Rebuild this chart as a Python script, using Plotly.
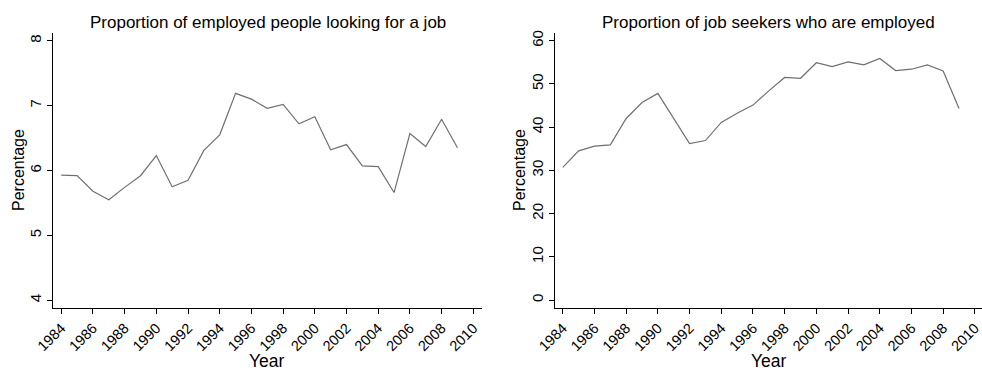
import plotly.graph_objects as go

years = list(range(1984, 2010))
employed_seeking = [5.93, 5.92, 5.68, 5.55, 5.74, 5.92, 6.23, 5.75, 5.85, 6.31,
                    6.55, 7.19, 7.10, 6.96, 7.02, 6.72, 6.83, 6.32, 6.40, 6.07,
                    6.06, 5.66, 6.57, 6.37, 6.79, 6.35]
seekers_employed = [30.7, 34.5, 35.6, 35.9, 42.0, 45.7, 47.8, 41.9, 36.2, 36.9,
                    41.1, 43.2, 45.1, 48.4, 51.5, 51.3, 54.9, 54.0, 55.1, 54.4,
                    55.9, 53.1, 53.4, 54.4, 53.0, 44.3]
x_ticks = list(range(1984, 2011, 2))
left_yticks = [4, 5, 6, 7, 8]
right_yticks = [0, 10, 20, 30, 40, 50, 60]

W, H = 982, 371
FONT = "Liberation Sans, Arial, Helvetica, sans-serif"
LINE = "#707070"

fig = go.Figure()
fig.add_trace(go.Scatter(x=years, y=employed_seeking, mode="lines",
                         line=dict(color=LINE, width=1.2), xaxis="x", yaxis="y",
                         showlegend=False))
fig.add_trace(go.Scatter(x=years, y=seekers_employed, mode="lines",
                         line=dict(color=LINE, width=1.2), xaxis="x2", yaxis="y2",
                         showlegend=False))

ydom = [1 - 308 / H, 1 - 33 / H]
xdom1 = [53 / W, 482 / W]
xdom2 = [555 / W, 1.0]

common_x = dict(showline=True, linecolor="black", linewidth=1, ticks="outside",
                ticklen=5, tickwidth=1, tickcolor="black", showgrid=False,
                zeroline=False, tickvals=x_ticks, ticktext=[str(t) for t in x_ticks],
                tickangle=-45, automargin=False, ticklabeloverflow="allow",
                tickfont=dict(size=14.5, color="black", family=FONT))
common_y = dict(showline=True, linecolor="black", linewidth=1, ticks="outside",
                ticklen=5, tickwidth=1, tickcolor="black", showgrid=False,
                zeroline=False, tickangle=-90, automargin=False,
                ticklabeloverflow="allow",
                tickfont=dict(size=15, color="black", family=FONT))

fig.update_layout(
    width=W, height=H,
    margin=dict(l=0, r=0, t=0, b=0, pad=0, autoexpand=False),
    paper_bgcolor="white", plot_bgcolor="white",
    font=dict(family=FONT, color="black"),
    xaxis=dict(domain=xdom1, anchor="y", range=[1983.48, 2010.55], **common_x),
    yaxis=dict(domain=ydom, anchor="x", range=[3.88, 8.12], tickvals=left_yticks,
               **common_y),
    xaxis2=dict(domain=xdom2, anchor="y2", range=[1983.51, 2010.45], **common_x),
    yaxis2=dict(domain=ydom, anchor="x2", range=[-1.85, 61.78], tickvals=right_yticks,
                **common_y),
    annotations=[
        dict(text="Proportion of employed people looking for a job", xref="paper",
             yref="paper", x=(xdom1[0] + xdom1[1]) / 2, y=1 - 22 / H, xanchor="center",
             yanchor="middle", showarrow=False, font=dict(size=17)),
        dict(text="Proportion of job seekers who are employed", xref="paper",
             yref="paper", x=(xdom2[0] + xdom2[1]) / 2, y=1 - 22 / H, xanchor="center",
             yanchor="middle", showarrow=False, font=dict(size=17)),
        dict(text="Year", xref="paper", yref="paper", x=267 / W, y=1 - 361 / H,
             xanchor="center", yanchor="middle", showarrow=False, font=dict(size=17.5)),
        dict(text="Year", xref="paper", yref="paper", x=769 / W, y=1 - 361 / H,
             xanchor="center", yanchor="middle", showarrow=False, font=dict(size=17.5)),
        dict(text="Percentage", xref="paper", yref="paper", x=18 / W, y=1 - 170 / H,
             xanchor="center", yanchor="middle", showarrow=False, textangle=-90,
             font=dict(size=16)),
        dict(text="Percentage", xref="paper", yref="paper", x=519 / W, y=1 - 170 / H,
             xanchor="center", yanchor="middle", showarrow=False, textangle=-90,
             font=dict(size=16)),
    ],
)

fig.write_html("out.html")
